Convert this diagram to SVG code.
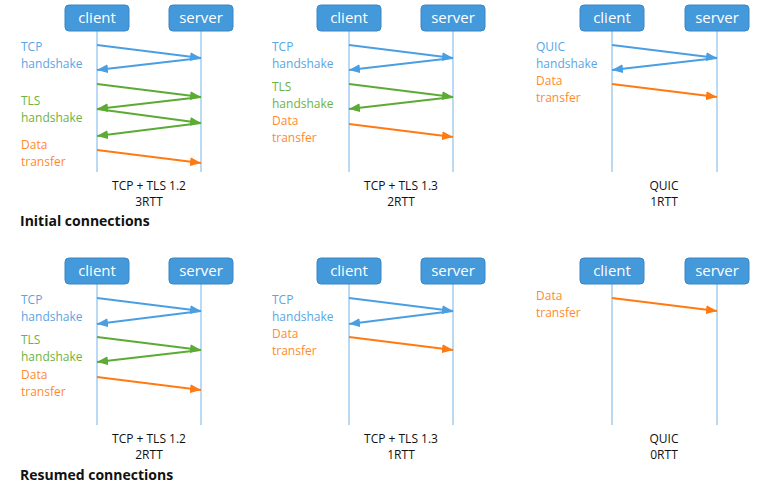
<svg xmlns="http://www.w3.org/2000/svg" width="762" height="488" viewBox="0 0 762 488">
<style>
.box{fill:#4499db;stroke:#3a86c4;stroke-width:1}
.bt{font-family:"Open Sans","Noto Sans",sans-serif;font-size:15px;fill:#fff;text-anchor:middle}
.life{stroke:#8cc0ea;stroke-width:1.2;fill:none}
.lb{font-family:"Open Sans","Noto Sans",sans-serif;font-size:12px}
.cb{fill:#5aa5e3}.cg{fill:#6db33f}.co{fill:#ff8a2e}
.cap{font-family:"Open Sans","Noto Sans",sans-serif;font-size:12px;fill:#111;text-anchor:middle}
.hd{font-family:"Open Sans","Noto Sans",sans-serif;font-size:14px;font-weight:bold;fill:#111}
.ab{stroke:#4a9ee2;stroke-width:2;fill:none;marker-end:url(#mb)}
.ag{stroke:#5cab34;stroke-width:2;fill:none;marker-end:url(#mg)}
.ao{stroke:#ff7a12;stroke-width:2;fill:none;marker-end:url(#mo)}
</style>
<defs>
<marker id="mb" markerUnits="userSpaceOnUse" markerWidth="11" markerHeight="9" refX="11" refY="4.5" orient="auto"><path d="M0,0 L11,4.5 L0,9 z" fill="#4a9ee2"/></marker>
<marker id="mg" markerUnits="userSpaceOnUse" markerWidth="11" markerHeight="9" refX="11" refY="4.5" orient="auto"><path d="M0,0 L11,4.5 L0,9 z" fill="#5cab34"/></marker>
<marker id="mo" markerUnits="userSpaceOnUse" markerWidth="11" markerHeight="9" refX="11" refY="4.5" orient="auto"><path d="M0,0 L11,4.5 L0,9 z" fill="#ff7a12"/></marker>
</defs>
<rect width="762" height="488" fill="#fff"/>

<g id="lifelines">
<line class="life" x1="97" y1="31" x2="97" y2="172"/>
<line class="life" x1="201" y1="31" x2="201" y2="172"/>
<line class="life" x1="349" y1="31" x2="349" y2="172"/>
<line class="life" x1="453" y1="31" x2="453" y2="172"/>
<line class="life" x1="612" y1="31" x2="612" y2="172"/>
<line class="life" x1="717" y1="31" x2="717" y2="172"/>
<line class="life" x1="97" y1="284" x2="97" y2="425"/>
<line class="life" x1="201" y1="284" x2="201" y2="425"/>
<line class="life" x1="349" y1="284" x2="349" y2="425"/>
<line class="life" x1="453" y1="284" x2="453" y2="425"/>
<line class="life" x1="612" y1="284" x2="612" y2="425"/>
<line class="life" x1="717" y1="284" x2="717" y2="425"/>
</g>

<g id="client1"><rect class="box" x="65" y="5" width="64" height="26" rx="4"/><text class="bt" x="97" y="23">client</text></g>
<g id="server1"><rect class="box" x="169" y="5" width="64" height="26" rx="4"/><text class="bt" x="201" y="23">server</text></g>
<g id="client2"><rect class="box" x="317" y="5" width="64" height="26" rx="4"/><text class="bt" x="349" y="23">client</text></g>
<g id="server2"><rect class="box" x="421" y="5" width="64" height="26" rx="4"/><text class="bt" x="453" y="23">server</text></g>
<g id="client3"><rect class="box" x="580" y="5" width="64" height="26" rx="4"/><text class="bt" x="612" y="23">client</text></g>
<g id="server3"><rect class="box" x="685" y="5" width="64" height="26" rx="4"/><text class="bt" x="717" y="23">server</text></g>
<g id="client4"><rect class="box" x="65" y="258" width="64" height="26" rx="4"/><text class="bt" x="97" y="276">client</text></g>
<g id="server4"><rect class="box" x="169" y="258" width="64" height="26" rx="4"/><text class="bt" x="201" y="276">server</text></g>
<g id="client5"><rect class="box" x="317" y="258" width="64" height="26" rx="4"/><text class="bt" x="349" y="276">client</text></g>
<g id="server5"><rect class="box" x="421" y="258" width="64" height="26" rx="4"/><text class="bt" x="453" y="276">server</text></g>
<g id="client6"><rect class="box" x="580" y="258" width="64" height="26" rx="4"/><text class="bt" x="612" y="276">client</text></g>
<g id="server6"><rect class="box" x="685" y="258" width="64" height="26" rx="4"/><text class="bt" x="717" y="276">server</text></g>

<g id="connectors">
<line class="ab" x1="97" y1="45" x2="201" y2="58"/>
<line class="ab" x1="201" y1="58" x2="97" y2="70"/>
<line class="ag" x1="97" y1="84" x2="201" y2="97"/>
<line class="ag" x1="201" y1="97" x2="97" y2="109"/>
<line class="ag" x1="97" y1="109" x2="201" y2="123"/>
<line class="ag" x1="201" y1="123" x2="97" y2="136"/>
<line class="ao" x1="97" y1="150" x2="201" y2="163"/>

<line class="ab" x1="349" y1="45" x2="453" y2="58"/>
<line class="ab" x1="453" y1="58" x2="349" y2="70"/>
<line class="ag" x1="349" y1="84" x2="453" y2="97"/>
<line class="ag" x1="453" y1="97" x2="349" y2="109"/>
<line class="ao" x1="349" y1="124" x2="453" y2="137"/>

<line class="ab" x1="612" y1="45" x2="717" y2="58"/>
<line class="ab" x1="717" y1="58" x2="612" y2="70"/>
<line class="ao" x1="612" y1="84" x2="717" y2="97"/>

<line class="ab" x1="97" y1="298" x2="201" y2="311"/>
<line class="ab" x1="201" y1="311" x2="97" y2="324"/>
<line class="ag" x1="97" y1="337" x2="201" y2="350"/>
<line class="ag" x1="201" y1="350" x2="97" y2="362"/>
<line class="ao" x1="97" y1="377" x2="201" y2="390"/>

<line class="ab" x1="349" y1="298" x2="453" y2="311"/>
<line class="ab" x1="453" y1="311" x2="349" y2="324"/>
<line class="ao" x1="349" y1="337" x2="453" y2="350"/>

<line class="ao" x1="612" y1="298" x2="717" y2="311"/>
</g>

<g id="labels">
<text class="lb cb" x="21" y="51">TCP</text>
<text class="lb cb" x="21" y="68">handshake</text>
<text class="lb cg" x="21" y="105">TLS</text>
<text class="lb cg" x="21" y="122">handshake</text>
<text class="lb co" x="21" y="149">Data</text>
<text class="lb co" x="21" y="166">transfer</text>

<text class="lb cb" x="272" y="51">TCP</text>
<text class="lb cb" x="272" y="68">handshake</text>
<text class="lb cg" x="272" y="91">TLS</text>
<text class="lb cg" x="272" y="108">handshake</text>
<text class="lb co" x="272" y="125">Data</text>
<text class="lb co" x="272" y="142">transfer</text>

<text class="lb cb" x="536" y="51">QUIC</text>
<text class="lb cb" x="536" y="68">handshake</text>
<text class="lb co" x="536" y="85">Data</text>
<text class="lb co" x="536" y="102">transfer</text>

<text class="lb cb" x="21" y="304">TCP</text>
<text class="lb cb" x="21" y="321">handshake</text>
<text class="lb cg" x="21" y="344">TLS</text>
<text class="lb cg" x="21" y="361">handshake</text>
<text class="lb co" x="21" y="379">Data</text>
<text class="lb co" x="21" y="396">transfer</text>

<text class="lb cb" x="272" y="304">TCP</text>
<text class="lb cb" x="272" y="321">handshake</text>
<text class="lb co" x="272" y="338">Data</text>
<text class="lb co" x="272" y="355">transfer</text>

<text class="lb co" x="536" y="300">Data</text>
<text class="lb co" x="536" y="317">transfer</text>
</g>

<g id="captions">
<text class="cap" x="149" y="190">TCP + TLS 1.2</text>
<text class="cap" x="149" y="206">3RTT</text>
<text class="cap" x="401" y="190">TCP + TLS 1.3</text>
<text class="cap" x="401" y="206">2RTT</text>
<text class="cap" x="664" y="190">QUIC</text>
<text class="cap" x="664" y="206">1RTT</text>
<text class="hd" x="20" y="226">Initial connections</text>

<text class="cap" x="149" y="443">TCP + TLS 1.2</text>
<text class="cap" x="149" y="459">2RTT</text>
<text class="cap" x="401" y="443">TCP + TLS 1.3</text>
<text class="cap" x="401" y="459">1RTT</text>
<text class="cap" x="664" y="443">QUIC</text>
<text class="cap" x="664" y="459">0RTT</text>
<text class="hd" x="20" y="480">Resumed connections</text>
</g>
</svg>
